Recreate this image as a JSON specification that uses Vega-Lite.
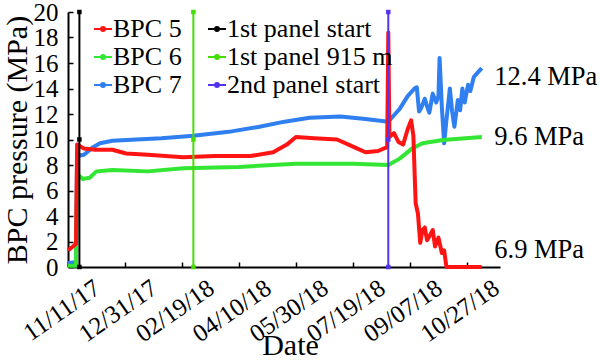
{
  "$schema": "https://vega.github.io/schema/vega-lite/v6.json",
  "autosize": {"type": "none"},
  "width": 432,
  "height": 255,
  "padding": {"left": 68, "top": 12, "right": 100, "bottom": 94},
  "background": "white",
  "config": {
    "view": {"stroke": null},
    "font": "Liberation Serif",
    "axis": {"grid": false, "domainColor": "#000", "tickColor": "#000", "labelColor": "#000", "titleColor": "#000", "titleFontWeight": "normal", "domainWidth": 2, "tickWidth": 1.5, "tickSize": -5}
  },
  "datasets": {
    "bpc": [
      {"s": "BPC 7", "d": "2017-11-11", "v": 0.3},
      {"s": "BPC 7", "d": "2017-11-18", "v": 0.4},
      {"s": "BPC 7", "d": "2017-11-19", "v": 8.7},
      {"s": "BPC 7", "d": "2017-11-25", "v": 8.8},
      {"s": "BPC 7", "d": "2017-12-03", "v": 9.4},
      {"s": "BPC 7", "d": "2017-12-09", "v": 9.7},
      {"s": "BPC 7", "d": "2017-12-20", "v": 9.9},
      {"s": "BPC 7", "d": "2018-01-10", "v": 10.0},
      {"s": "BPC 7", "d": "2018-02-01", "v": 10.1},
      {"s": "BPC 7", "d": "2018-03-01", "v": 10.3},
      {"s": "BPC 7", "d": "2018-04-01", "v": 10.6},
      {"s": "BPC 7", "d": "2018-04-28", "v": 11.0},
      {"s": "BPC 7", "d": "2018-05-20", "v": 11.4},
      {"s": "BPC 7", "d": "2018-06-11", "v": 11.7},
      {"s": "BPC 7", "d": "2018-07-08", "v": 11.8},
      {"s": "BPC 7", "d": "2018-07-30", "v": 11.6},
      {"s": "BPC 7", "d": "2018-08-19", "v": 11.4},
      {"s": "BPC 7", "d": "2018-08-25", "v": 12.0},
      {"s": "BPC 7", "d": "2018-08-29", "v": 12.4},
      {"s": "BPC 7", "d": "2018-09-05", "v": 13.4},
      {"s": "BPC 7", "d": "2018-09-11", "v": 14.0},
      {"s": "BPC 7", "d": "2018-09-13", "v": 14.1},
      {"s": "BPC 7", "d": "2018-09-15", "v": 12.2},
      {"s": "BPC 7", "d": "2018-09-17", "v": 12.5},
      {"s": "BPC 7", "d": "2018-09-20", "v": 13.2},
      {"s": "BPC 7", "d": "2018-09-22", "v": 12.6},
      {"s": "BPC 7", "d": "2018-09-24", "v": 12.1},
      {"s": "BPC 7", "d": "2018-09-27", "v": 13.6},
      {"s": "BPC 7", "d": "2018-09-30", "v": 12.9},
      {"s": "BPC 7", "d": "2018-10-02", "v": 13.4},
      {"s": "BPC 7", "d": "2018-10-03", "v": 16.4},
      {"s": "BPC 7", "d": "2018-10-05", "v": 12.5},
      {"s": "BPC 7", "d": "2018-10-07", "v": 9.7},
      {"s": "BPC 7", "d": "2018-10-09", "v": 11.5},
      {"s": "BPC 7", "d": "2018-10-12", "v": 14.0},
      {"s": "BPC 7", "d": "2018-10-14", "v": 12.2},
      {"s": "BPC 7", "d": "2018-10-16", "v": 11.0},
      {"s": "BPC 7", "d": "2018-10-19", "v": 13.1},
      {"s": "BPC 7", "d": "2018-10-21", "v": 12.3},
      {"s": "BPC 7", "d": "2018-10-23", "v": 14.0},
      {"s": "BPC 7", "d": "2018-10-25", "v": 12.9},
      {"s": "BPC 7", "d": "2018-10-28", "v": 14.3},
      {"s": "BPC 7", "d": "2018-10-30", "v": 13.8},
      {"s": "BPC 7", "d": "2018-11-02", "v": 14.9},
      {"s": "BPC 7", "d": "2018-11-05", "v": 15.2},
      {"s": "BPC 7", "d": "2018-11-09", "v": 15.6},
      {"s": "BPC 6", "d": "2017-11-11", "v": 0.1},
      {"s": "BPC 6", "d": "2017-11-18", "v": 0.1},
      {"s": "BPC 6", "d": "2017-11-19", "v": 7.3},
      {"s": "BPC 6", "d": "2017-11-24", "v": 6.9},
      {"s": "BPC 6", "d": "2017-11-30", "v": 7.0},
      {"s": "BPC 6", "d": "2017-12-06", "v": 7.5},
      {"s": "BPC 6", "d": "2017-12-20", "v": 7.6},
      {"s": "BPC 6", "d": "2018-01-20", "v": 7.5},
      {"s": "BPC 6", "d": "2018-02-20", "v": 7.75},
      {"s": "BPC 6", "d": "2018-04-10", "v": 7.85},
      {"s": "BPC 6", "d": "2018-05-30", "v": 8.1},
      {"s": "BPC 6", "d": "2018-07-19", "v": 8.1},
      {"s": "BPC 6", "d": "2018-08-19", "v": 8.0},
      {"s": "BPC 6", "d": "2018-08-29", "v": 8.5},
      {"s": "BPC 6", "d": "2018-09-09", "v": 9.3},
      {"s": "BPC 6", "d": "2018-09-18", "v": 9.7},
      {"s": "BPC 6", "d": "2018-10-06", "v": 9.96},
      {"s": "BPC 6", "d": "2018-11-09", "v": 10.2},
      {"s": "BPC 5", "d": "2017-11-11", "v": 1.3},
      {"s": "BPC 5", "d": "2017-11-18", "v": 1.8},
      {"s": "BPC 5", "d": "2017-11-19", "v": 9.6},
      {"s": "BPC 5", "d": "2017-11-25", "v": 9.3},
      {"s": "BPC 5", "d": "2017-12-05", "v": 9.2},
      {"s": "BPC 5", "d": "2017-12-20", "v": 9.2},
      {"s": "BPC 5", "d": "2018-01-01", "v": 8.9},
      {"s": "BPC 5", "d": "2018-01-20", "v": 8.8},
      {"s": "BPC 5", "d": "2018-02-20", "v": 8.6},
      {"s": "BPC 5", "d": "2018-03-20", "v": 8.7},
      {"s": "BPC 5", "d": "2018-04-20", "v": 8.7},
      {"s": "BPC 5", "d": "2018-05-10", "v": 9.0},
      {"s": "BPC 5", "d": "2018-05-22", "v": 9.6},
      {"s": "BPC 5", "d": "2018-05-30", "v": 10.2},
      {"s": "BPC 5", "d": "2018-06-15", "v": 10.1},
      {"s": "BPC 5", "d": "2018-07-05", "v": 10.0},
      {"s": "BPC 5", "d": "2018-07-20", "v": 9.4},
      {"s": "BPC 5", "d": "2018-07-30", "v": 9.0},
      {"s": "BPC 5", "d": "2018-08-10", "v": 9.1},
      {"s": "BPC 5", "d": "2018-08-18", "v": 9.4},
      {"s": "BPC 5", "d": "2018-08-19", "v": 18.4},
      {"s": "BPC 5", "d": "2018-08-20", "v": 10.2},
      {"s": "BPC 5", "d": "2018-08-24", "v": 10.5},
      {"s": "BPC 5", "d": "2018-08-28", "v": 9.8},
      {"s": "BPC 5", "d": "2018-09-01", "v": 9.6},
      {"s": "BPC 5", "d": "2018-09-05", "v": 10.8},
      {"s": "BPC 5", "d": "2018-09-08", "v": 11.5},
      {"s": "BPC 5", "d": "2018-09-10", "v": 10.3},
      {"s": "BPC 5", "d": "2018-09-11", "v": 7.6},
      {"s": "BPC 5", "d": "2018-09-12", "v": 5.0},
      {"s": "BPC 5", "d": "2018-09-14", "v": 4.2},
      {"s": "BPC 5", "d": "2018-09-16", "v": 1.9},
      {"s": "BPC 5", "d": "2018-09-18", "v": 2.9},
      {"s": "BPC 5", "d": "2018-09-20", "v": 3.1},
      {"s": "BPC 5", "d": "2018-09-22", "v": 2.1},
      {"s": "BPC 5", "d": "2018-09-24", "v": 2.4},
      {"s": "BPC 5", "d": "2018-09-27", "v": 2.9},
      {"s": "BPC 5", "d": "2018-09-29", "v": 1.6},
      {"s": "BPC 5", "d": "2018-10-02", "v": 2.3},
      {"s": "BPC 5", "d": "2018-10-05", "v": 1.1},
      {"s": "BPC 5", "d": "2018-10-07", "v": 1.3},
      {"s": "BPC 5", "d": "2018-10-09", "v": 0.0},
      {"s": "BPC 5", "d": "2018-11-09", "v": 0.0}
    ],
    "panels": [
      {"s": "1st panel start", "d": "2017-11-21", "v": 0},
      {"s": "1st panel start", "d": "2017-11-21", "v": 10},
      {"s": "1st panel start", "d": "2017-11-21", "v": 20},
      {"s": "1st panel 915 m", "d": "2018-03-01", "v": 0},
      {"s": "1st panel 915 m", "d": "2018-03-01", "v": 10},
      {"s": "1st panel 915 m", "d": "2018-03-01", "v": 20},
      {"s": "2nd panel start", "d": "2018-08-19", "v": 0},
      {"s": "2nd panel start", "d": "2018-08-19", "v": 10},
      {"s": "2nd panel start", "d": "2018-08-19", "v": 20}
    ],
    "labels": [
      {"d": "2018-11-20", "v": 14.9, "t": "12.4 MPa"},
      {"d": "2018-11-20", "v": 10.2, "t": "9.6 MPa"},
      {"d": "2018-11-20", "v": 1.3, "t": "6.9 MPa"}
    ]
  },
  "encoding": {
    "x": {
      "field": "d", "type": "temporal",
      "scale": {"type": "utc", "domain": [{"year": 2017, "month": 11, "date": 11, "utc": true}, {"year": 2018, "month": 11, "date": 25, "utc": true}]},
      "axis": {
        "title": "Date", "titleFont": "Liberation Serif", "titleFontSize": 30, "titleBaseline": "middle", "titleY": 78, "titleX": 222,
        "values": [
          {"year": 2017, "month": 11, "date": 11, "utc": true},
          {"year": 2017, "month": 12, "date": 31, "utc": true},
          {"year": 2018, "month": 2, "date": 19, "utc": true},
          {"year": 2018, "month": 4, "date": 10, "utc": true},
          {"year": 2018, "month": 5, "date": 30, "utc": true},
          {"year": 2018, "month": 7, "date": 19, "utc": true},
          {"year": 2018, "month": 9, "date": 7, "utc": true},
          {"year": 2018, "month": 10, "date": 27, "utc": true}
        ],
        "format": "%m/%d/%y", "labelAngle": -35, "labelAlign": "right", "labelBaseline": "top",
        "labelFont": "Liberation Serif", "labelFontSize": 25, "labelOffset": 22, "labelPadding": 13, "labelOverlap": false, "labelFlush": false
      }
    },
    "y": {
      "field": "v", "type": "quantitative",
      "scale": {"domain": [0, 20], "nice": false},
      "axis": {"title": "BPC pressure (MPa)", "titleFont": "Liberation Serif", "titleFontSize": 30, "titleX": -51, "titleBaseline": "middle", "values": [0, 2, 4, 6, 8, 10, 12, 14, 16, 18, 20], "labelFont": "Liberation Serif", "labelFontSize": 25, "labelPadding": 15}
    }
  },
  "layer": [
    {
      "data": {"name": "bpc"},
      "mark": {"type": "line", "strokeWidth": 4, "strokeJoin": "round"},
      "encoding": {
        "color": {"field": "s", "type": "nominal",
          "scale": {"domain": ["BPC 5", "BPC 6", "BPC 7", "1st panel start", "1st panel 915 m", "2nd panel start"],
                    "range": ["#ff1414", "#33e633", "#2f7ff0", "#000000", "#44dd00", "#5533ee"]},
          "legend": {"title": null, "orient": "none", "legendX": 22, "legendY": 4, "columns": 2, "columnPadding": 22, "rowPadding": 2,
            "labelFont": "Liberation Serif", "labelFontSize": 26, "labelColor": "#000", "labelOffset": -3, "labelLimit": 300,
            "symbolType": "M-1,0H1M-0.22,0A0.22,0.22,0,1,0,0.22,0A0.22,0.22,0,1,0,-0.22,0", "symbolSize": 324, "symbolStrokeWidth": 2, "padding": 0}
        }
      }
    },
    {
      "data": {"name": "panels"},
      "mark": {"type": "line", "strokeWidth": 2, "point": {"filled": true, "shape": "square", "size": 20}},
      "encoding": {"color": {"field": "s", "type": "nominal"}}
    },
    {
      "data": {"name": "labels"},
      "mark": {"type": "text", "align": "left", "baseline": "middle", "fontSize": 26.5, "font": "Liberation Serif", "color": "#000"},
      "encoding": {"text": {"field": "t"}}
    }
  ]
}
